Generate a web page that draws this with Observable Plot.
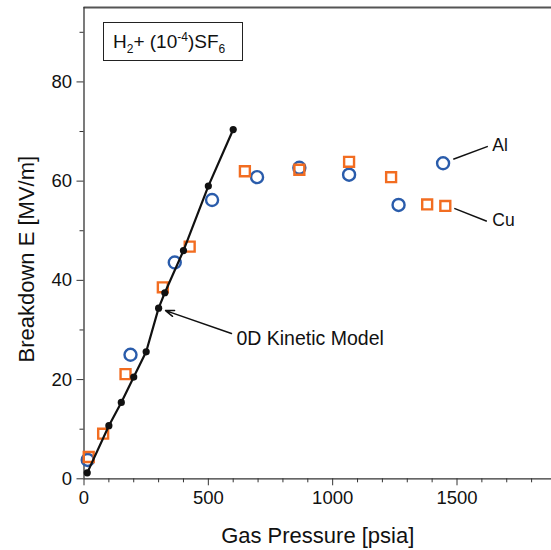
<!DOCTYPE html>
<html>
<head>
<meta charset="utf-8">
<script src="https://cdn.jsdelivr.net/npm/d3@7"></script>
<script src="https://cdn.jsdelivr.net/npm/@observablehq/plot@0.6"></script>
<style>
  html, body { margin: 0; padding: 0; background: #fff; }
  #chart svg { display: block; }
</style>
</head>
<body>
<div id="chart"></div>
<script>
// ---- data ----
const pressureModel = [13, 100, 150, 200, 250, 300, 325, 400, 500, 600];
const eModel        = [1.2, 10.7, 15.4, 20.5, 25.6, 34.4, 37.5, 46.0, 59.0, 70.4];
const pressureAl = [15, 187, 365, 515, 696, 866, 1066, 1265, 1444];
const eAl        = [3.8, 25.0, 43.6, 56.2, 60.8, 62.7, 61.3, 55.2, 63.6];
const pressureCu = [19, 77, 167, 317, 425, 647, 866, 1066, 1235, 1380, 1453];
const eCu        = [4.4, 9.1, 21.1, 38.6, 46.8, 62.0, 62.3, 63.9, 60.8, 55.3, 55.0];
const xMajorTicks = [0, 500, 1000, 1500];
const xMinorTicks = [100, 200, 300, 400, 600, 700, 800, 900, 1100, 1200, 1300, 1400, 1600, 1700, 1800];
const yMajorTicks = [0, 20, 40, 60, 80];
const yMinorTicks = [10, 30, 50, 70, 90];
const xLabel = "Gas Pressure [psia]";
const yLabel = "Breakdown E [MV/m]";
const modelLabel = "0D Kinetic Model";
// annotation anchors (data units)
const modelArrow = [{x1: 593, y1: 29.3, x2: 328, y2: 33.9}];
const modelText = [{x: 613, y: 28.3, t: modelLabel}];
const seriesLeaders = [
  {x1: 1485, y1: 64.4, x2: 1624, y2: 67.0},
  {x1: 1489, y1: 54.5, x2: 1620, y2: 51.9}
];
const seriesText = [{x: 1642, y: 67.2, t: "Al"}, {x: 1642, y: 52.1, t: "Cu"}];

const model = pressureModel.map((p, i) => ({p, e: eModel[i]}));
const al = pressureAl.map((p, i) => ({p, e: eAl[i]}));
const cu = pressureCu.map((p, i) => ({p, e: eCu[i]}));

const FONT = "'Liberation Sans', Arial, Helvetica, sans-serif";
const BLUE = "#2a5cab";
const ORANGE = "#f26d21";
const AX = "#333";

const plot = Plot.plot({
  width: 551,
  height: 550,
  marginLeft: 83.5,
  marginRight: 0,
  marginTop: 7,
  marginBottom: 71.7,
  style: {fontFamily: FONT, background: "#fff", color: "#111"},
  x: {domain: [0, 1880], label: null},
  y: {domain: [0, 95], label: null},
  marks: [
    Plot.axisX({ticks: xMinorTicks, tickSize: 4, text: null, stroke: AX, label: null}),
    Plot.axisX({ticks: xMajorTicks, tickSize: 7, tickPadding: 5, fontSize: 18.5, stroke: AX, fill: "#111", label: null, tickFormat: d => String(d)}),
    Plot.axisY({ticks: yMinorTicks, tickSize: 4, text: null, stroke: AX, label: null}),
    Plot.axisY({ticks: yMajorTicks, tickSize: 7, tickPadding: 5, fontSize: 18.5, stroke: AX, fill: "#111", label: null, tickFormat: d => String(d)}),
    Plot.ruleY([0], {stroke: AX, strokeWidth: 1.3}),
    Plot.ruleY([95], {stroke: "#555", strokeWidth: 1.8}),
    Plot.ruleX([0], {stroke: AX, strokeWidth: 1.3}),
    Plot.text([xLabel], {frameAnchor: "bottom", dy: 57, lineAnchor: "middle", fontSize: 22, text: d => d, fill: "#111"}),
    Plot.text([yLabel], {frameAnchor: "left", dx: -57, dy: 16, rotate: -90, textAnchor: "middle", lineAnchor: "middle", fontSize: 22, text: d => d, fill: "#111"}),
    Plot.dot(al, {x: "p", y: "e", r: 6, stroke: BLUE, strokeWidth: 2.4, fill: "none", symbol: "circle"}),
    Plot.dot(cu, {x: "p", y: "e", r: 5.6, stroke: ORANGE, strokeWidth: 2.4, fill: "none", symbol: "square"}),
    Plot.line(model, {x: "p", y: "e", stroke: "#111", strokeWidth: 2.2}),
    Plot.dot(model, {x: "p", y: "e", r: 3.6, fill: "#111", stroke: "none"}),
    Plot.arrow(modelArrow, {x1: "x1", y1: "y1", x2: "x2", y2: "y2", stroke: "#111", strokeWidth: 1.5, headLength: 9, headAngle: 40}),
    Plot.text(modelText, {x: "x", y: "y", text: "t", textAnchor: "start", fontSize: 19.5, fill: "#111"}),
    Plot.link(seriesLeaders, {x1: "x1", y1: "y1", x2: "x2", y2: "y2", stroke: "#111", strokeWidth: 1.5}),
    Plot.text(seriesText, {x: "x", y: "y", text: "t", textAnchor: "start", fontSize: 17.5, fill: "#111"})
  ]
});

// legend box with sub/superscripts
const svg = d3.select(plot);
const g = svg.append("g").attr("font-family", FONT).attr("fill", "#111").attr("text-anchor", "start");
g.append("rect").attr("x", 103.5).attr("y", 22.5).attr("width", 139).attr("height", 38)
  .attr("fill", "#fff").attr("stroke", "#222").attr("stroke-width", 1);
const t = g.append("text").attr("x", 113).attr("y", 48).attr("font-size", 19).attr("text-anchor", "start");
t.append("tspan").text("H");
t.append("tspan").attr("font-size", 12).attr("dy", 4.5).text("2");
t.append("tspan").attr("dy", -4.5).text("+ (10");
t.append("tspan").attr("font-size", 12).attr("dy", -7).text("-4");
t.append("tspan").attr("dy", 7).text(")SF");
t.append("tspan").attr("font-size", 12).attr("dy", 4.5).text("6");

document.getElementById("chart").appendChild(plot);
</script>
</body>
</html>
